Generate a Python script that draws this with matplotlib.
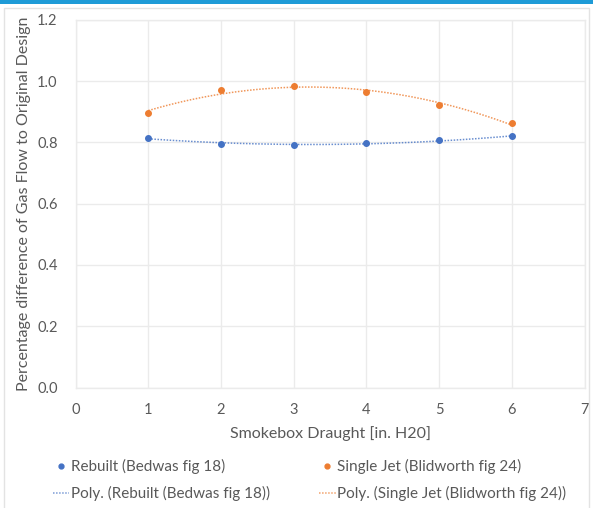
import numpy as np
import matplotlib
matplotlib.use("Agg")
import matplotlib.pyplot as plt
from matplotlib.lines import Line2D
from matplotlib.patches import Rectangle

plt.rcParams['font.family'] = ['Lato', 'DejaVu Sans']

# Smokebox draught [in. H2O]
draught = [1, 2, 3, 4, 5, 6]
rebuilt = [0.814, 0.796, 0.793, 0.797, 0.807, 0.820]
single_jet = [0.896, 0.972, 0.983, 0.964, 0.923, 0.863]

x_ticks = [0, 1, 2, 3, 4, 5, 6, 7]
y_ticks = [0.0, 0.2, 0.4, 0.6, 0.8, 1.0, 1.2]

label_rebuilt = "Rebuilt (Bedwas fig 18)"
label_single = "Single Jet (Blidworth fig 24)"

blue = "#4472C4"
orange = "#ED7D31"
text_gray = "#595959"
grid_gray = "#EBEBEB"

fig = plt.figure(figsize=(5.93, 5.08), dpi=100)
fig.patch.set_facecolor("white")

# outer chart frame and header strip
fig.add_artist(Rectangle((0.006, -0.01), 0.988, 0.995, transform=fig.transFigure,
                         fill=False, edgecolor="#E3E3E3", linewidth=1.0))
fig.add_artist(Rectangle((0.0, 0.993), 1.0, 0.007, transform=fig.transFigure,
                         facecolor="#1E9BD7", edgecolor="none"))

ax = fig.add_axes([0.1275, 1 - 387.5 / 508, (584.6 - 75.6) / 593, (387.5 - 20) / 508])

# scatter points
ax.plot(draught, rebuilt, linestyle="none", marker="o", markersize=4,
        color=blue, zorder=4)
ax.plot(draught, single_jet, linestyle="none", marker="o", markersize=4,
        color=orange, zorder=4)

# second-order polynomial trendlines
xs = np.linspace(draught[0], draught[-1], 200)
p_reb = np.polyfit(draught, rebuilt, 2)
p_sgl = np.polyfit(draught, single_jet, 2)
ax.plot(xs, np.polyval(p_reb, xs), linestyle=(0, (1, 1)), linewidth=1.1,
        color=blue, alpha=0.8, zorder=3)
ax.plot(xs, np.polyval(p_sgl, xs), linestyle=(0, (1, 1)), linewidth=1.1,
        color=orange, alpha=0.8, zorder=3)

ax.set_xlim(0, 7)
ax.set_ylim(0, 1.2)
ax.set_xticks(x_ticks)
ax.set_yticks(y_ticks)
ax.set_xticklabels([str(v) for v in x_ticks])
ax.set_yticklabels([f"{v:.1f}" for v in y_ticks])
ax.grid(True, color=grid_gray, linewidth=1.0)
ax.set_axisbelow(True)
for side in ax.spines.values():
    side.set_color(grid_gray)
    side.set_linewidth(1.0)
ax.tick_params(length=0, colors=text_gray, labelsize=10.5)
ax.tick_params(axis="x", pad=11)
ax.tick_params(axis="y", pad=13)
for lab in ax.get_xticklabels() + ax.get_yticklabels():
    lab.set_color(text_gray)

ax.set_xlabel("Smokebox Draught [in. H20]", fontsize=11.5, color=text_gray, labelpad=7)
ax.set_ylabel("Percentage difference of Gas Flow to Original Design", fontsize=11.5,
              color=text_gray, labelpad=4)

handles = [
    Line2D([], [], linestyle="none", marker="o", markersize=3.5, color=blue),
    Line2D([], [], linestyle=(0, (1, 1)), linewidth=1.1, color=blue, alpha=0.7),
    Line2D([], [], linestyle="none", marker="o", markersize=3.5, color=orange),
    Line2D([], [], linestyle=(0, (1, 1)), linewidth=1.1, color=orange, alpha=0.7),
]
labels = [
    label_rebuilt,
    f"Poly. ({label_rebuilt})",
    label_single,
    f"Poly. ({label_single})",
]
leg = fig.legend(handles, labels, ncol=2, loc="center", bbox_to_anchor=(0.522, 0.055),
                 frameon=False, fontsize=11, handlelength=1.1, handletextpad=0.1,
                 columnspacing=3.2, labelspacing=0.75, borderaxespad=0)
for t in leg.get_texts():
    t.set_color(text_gray)

fig.savefig("out.png", dpi=100, facecolor="white")
